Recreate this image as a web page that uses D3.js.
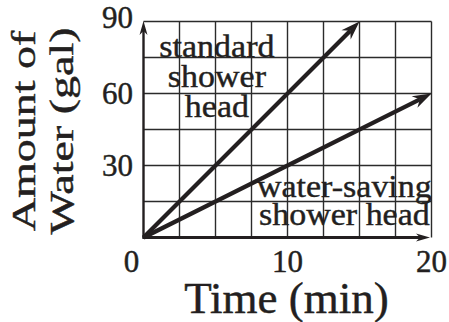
<!DOCTYPE html>
<html>
<head>
<meta charset="utf-8">
<script src="https://cdn.jsdelivr.net/npm/d3@7"></script>
<style>
  html, body { margin: 0; padding: 0; background: #fff; }
  svg { display: block; }
  text { font-family: "Liberation Serif", "Times New Roman", serif; fill: #231f20; stroke: #231f20; stroke-width: 0.45px; }
</style>
</head>
<body>
<svg id="chart" width="449" height="322"></svg>
<script>
// ---- data ----
const timeTicks = [0, 10, 20];
const waterTicks = [30, 60, 90];
const gridTime = [2.5, 5, 7.5, 10, 12.5, 15, 17.5, 20];
const gridWater = [15, 30, 45, 60, 75, 90];
const standardTime = [0, 15];
const standardWater = [0, 90];
const savingTime = [0, 20];
const savingWater = [0, 60];
const standardLabel = ["standard", "shower", "head"];
const savingLabel = ["water-saving", "shower head"];
const xTitle = "Time (min)";
const yTitle = ["Amount of", "Water (gal)"];

// ---- layout ----
const ink = "#231f20";
const svg = d3.select("#chart");
const x = d3.scaleLinear().domain([0, 20]).range([143.5, 431.5]);
const y = d3.scaleLinear().domain([0, 90]).range([237.5, 21.5]);

// grid
const g = svg.append("g");
g.selectAll("line.gx").data(gridTime).join("line")
  .attr("x1", d => x(d)).attr("x2", d => x(d))
  .attr("y1", y(0)).attr("y2", y(90))
  .attr("stroke", "#2b2b2b").attr("stroke-width", 1.4);
g.selectAll("line.gy").data(gridWater).join("line")
  .attr("x1", x(0)).attr("x2", x(20))
  .attr("y1", d => y(d)).attr("y2", d => y(d))
  .attr("stroke", "#2b2b2b").attr("stroke-width", 1.4);

function arrow(x0, y0, x1, y1, width, head, color) {
  const ang = Math.atan2(y1 - y0, x1 - x0);
  const back = head.notch;
  const ex = x1 - Math.cos(ang) * back, ey = y1 - Math.sin(ang) * back;
  svg.append("line").attr("x1", x0).attr("y1", y0).attr("x2", ex).attr("y2", ey)
    .attr("stroke", color).attr("stroke-width", width);
  const pts = [[0, 0], [-head.len, -head.half], [-head.notch, 0], [-head.len, head.half]];
  svg.append("path")
    .attr("d", "M" + pts.map(p => p.join(",")).join("L") + "Z")
    .attr("fill", color)
    .attr("transform", `translate(${x1},${y1}) rotate(${ang * 180 / Math.PI})`);
}

// axes
const axisHead = { len: 14, half: 4, notch: 10 };
arrow(x(0), y(0) + 1, x(0), y(90) - 0.5, 2.4, axisHead, ink);
arrow(x(0) - 1, y(0), x(20) - 1.5, y(0), 2.8, axisHead, ink);

// data lines
const lineHead = { len: 19, half: 6.5, notch: 13 };
arrow(x(standardTime[0]), y(standardWater[0]), x(standardTime[1]), y(standardWater[1]), 4.2, lineHead, ink);
arrow(x(savingTime[0]), y(savingWater[0]), x(savingTime[1]), y(savingWater[1]), 4.2, lineHead, ink);

// tick labels
svg.selectAll("text.xt").data(timeTicks).join("text")
  .attr("x", d => x(d) + (d === 0 ? -12 : 0))
  .attr("y", 272)
  .attr("text-anchor", "middle")
  .attr("font-size", 31)
  .text(d => d);
svg.selectAll("text.yt").data(waterTicks).join("text")
  .attr("x", x(0) - 10.5)
  .attr("y", d => y(d) + (d === 90 ? -4 : 0))
  .attr("dy", "0.34em")
  .attr("text-anchor", "end")
  .attr("font-size", 31)
  .text(d => d);

// axis titles
svg.append("text").attr("x", x(10) - 1).attr("y", 313)
  .attr("text-anchor", "middle").attr("font-size", 45).text(xTitle);
const yt = svg.append("g").attr("transform", "translate(0,131) rotate(-90) scale(1,0.72)");
yTitle.forEach((t, i) => {
  yt.append("text").attr("x", 0).attr("y", (35 + i * 38) / 0.72)
    .attr("text-anchor", "middle").attr("font-size", 46)
    .style("stroke-width", "0.6px").text(t);
});

// annotations
function label(lines, cx, baseY, lh) {
  lines.forEach((t, i) => {
    svg.append("text")
      .attr("transform", `translate(${cx},${baseY + i * lh}) scale(1,0.9)`)
      .attr("text-anchor", "middle").attr("font-size", 34).text(t);
  });
}
label(standardLabel, x(5.1), y(75.2), 30);
label(savingLabel, x(13.95), y(17), 28.5);
</script>
</body>
</html>
